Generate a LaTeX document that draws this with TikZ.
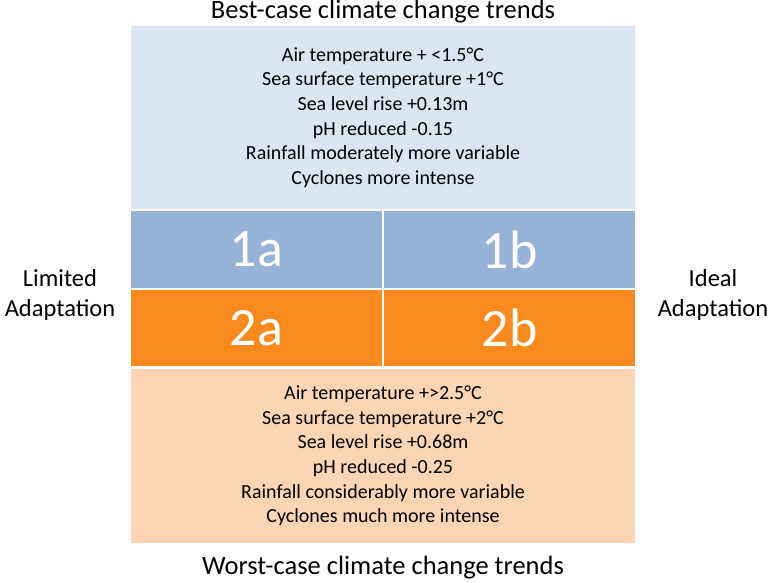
\documentclass[tikz,border=0pt]{standalone}
\usepackage{fontspec}
\setmainfont{Carlito}
\definecolor{lblue}{HTML}{DCE6F2}
\definecolor{mblue}{HTML}{95B3D7}
\definecolor{morange}{HTML}{FA8A1E}
\definecolor{peach}{HTML}{FCD5B5}
\tikzset{
  cell/.style={inner sep=0pt, outer sep=0pt, anchor=north west},
  body/.style={align=center, font=\fontsize{20}{24.6}\selectfont, text=black},
  big/.style={font=\fontsize{54}{60}\selectfont, text=white},
  title/.style={font=\fontsize{26.5}{30}\selectfont},
  label/.style={align=center, font=\fontsize{24.5}{30}\selectfont},
}
\begin{document}
\begin{tikzpicture}[x=1pt,y=-1pt]
\useasboundingbox (0,0) rectangle (773,582);
\node[cell, fill=lblue, minimum width=504pt, minimum height=183pt] (top) at (131,26) {};
\node[cell, fill=mblue, minimum width=251pt, minimum height=77pt] (c1a) at (131,211) {};
\node[cell, fill=mblue, minimum width=251pt, minimum height=77pt] (c1b) at (384,211) {};
\node[cell, fill=morange, minimum width=251pt, minimum height=76pt] (c2a) at (131,290) {};
\node[cell, fill=morange, minimum width=251pt, minimum height=76pt] (c2b) at (384,290) {};
\node[cell, fill=peach, minimum width=504pt, minimum height=174pt] (bot) at (131,369) {};
\node[body] (toptext) at (top.center) {Air temperature + <1.5°C\\Sea surface temperature +1°C\\Sea level rise +0.13m\\pH reduced -0.15\\Rainfall moderately more variable\\Cyclones more intense};
\node[body] (bottext) at (bot.center) {Air temperature +>2.5°C\\Sea surface temperature +2°C\\Sea level rise +0.68m\\pH reduced -0.25\\Rainfall considerably more variable\\Cyclones much more intense};
\node[big] (t1a) at (c1a.center) {1a};
\node[big] (t1b) at (c1b.center) {1b};
\node[big] (t2a) at (c2a.center) {2a};
\node[big] (t2b) at (c2b.center) {2b};
\node[title] (besttitle) at (383,12) {Best-case climate change trends};
\node[title] (worsttitle) at (383,568) {Worst-case climate change trends};
\node[label] (limited) at (60,295) {Limited\\Adaptation};
\node[label] (ideal) at (713,295) {Ideal\\Adaptation};
\end{tikzpicture}
\end{document}
